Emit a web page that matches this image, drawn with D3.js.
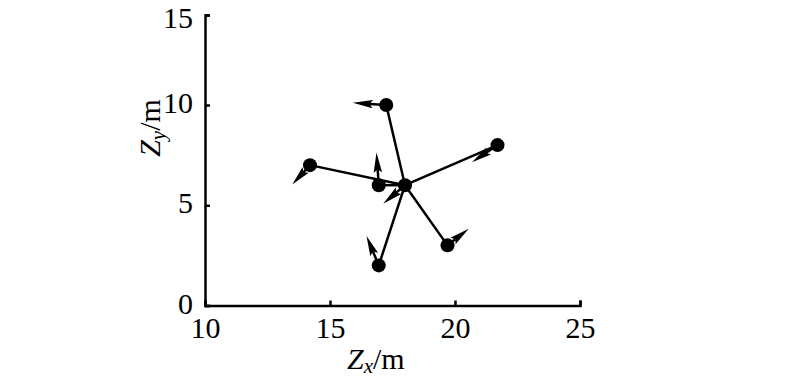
<!DOCTYPE html>
<html>
<head>
<meta charset="utf-8">
<script src="https://cdn.jsdelivr.net/npm/d3@7"></script>
<style>
  body { margin: 0; background: #fff; }
  text { font-family: "Liberation Serif", "Times New Roman", serif; }
</style>
</head>
<body>
<div id="chart"></div>
<script>
// node positions (m) and velocity vectors drawn as arrows
var px = [18.0, 17.25, 21.7, 14.2, 16.95, 19.7, 16.95];
var py = [6.0, 10.0, 8.0, 7.0, 6.0, 3.0, 2.0];
var vx = [-0.87, -1.34, -1.02, -0.71, -0.09, 0.85, -0.49];
var vy = [-0.92, 0.12, -0.85, -0.97, 1.63, 0.83, 1.47];
var hub = 0; // every other node is linked to this one
var xTicks = [10, 15, 20, 25];
var yTicks = [0, 5, 10, 15];

var width = 800, height = 379;
var svg = d3.select("#chart").append("svg")
    .attr("width", width)
    .attr("height", height)
    .style("background", "#fff");

var x = d3.scaleLinear().domain([10, 25]).range([205, 580]);
// top of the original axis is squeezed a little, so a polylinear scale
var y = d3.scaleLinear().domain([0, 10, 15]).range([305.5, 105, 15]);

var xAxis = d3.axisBottom(x).tickValues(xTicks)
    .tickSizeInner(-5).tickSizeOuter(-5).tickPadding(11);
var yAxis = d3.axisLeft(y).tickValues(yTicks)
    .tickSizeInner(-5).tickSizeOuter(-5).tickPadding(12);

var gx = svg.append("g").attr("transform", "translate(0,305.5)").call(xAxis);
var gy = svg.append("g").attr("transform", "translate(205,0)").call(yAxis);

[gx, gy].forEach(function (g) {
    g.selectAll("path, line").attr("stroke", "#000").attr("stroke-width", 2.5);
    g.selectAll("text")
        .attr("fill", "#000")
        .style("font-size", "30px");
});
gy.selectAll("text").attr("dy", function (d) { return d === 15 ? "0.4em" : "0.25em"; });

// axis titles
var xt = svg.append("text")
    .attr("x", 347).attr("y", 369)
    .style("font-size", "30px");
xt.append("tspan").style("font-style", "italic").text("Z");
xt.append("tspan").style("font-style", "italic").style("font-size", "21px").attr("dy", 4).text("x");
xt.append("tspan").attr("dy", -4).text("/m");

var yt = svg.append("text")
    .attr("transform", "translate(160,128) rotate(-90)")
    .attr("text-anchor", "middle")
    .style("font-size", "30px");
yt.append("tspan").style("font-style", "italic").text("Z");
yt.append("tspan").style("font-style", "italic").style("font-size", "21px").attr("dy", 5).text("y");
yt.append("tspan").attr("dy", -5).text("/m");

var nodes = px.map(function (d, i) {
    return { x: px[i], y: py[i], vx: vx[i], vy: vy[i] };
});

// links from the hub
svg.append("g").selectAll("line")
    .data(nodes.filter(function (d, i) { return i !== hub; }))
    .enter().append("line")
    .attr("x1", x(nodes[hub].x)).attr("y1", y(nodes[hub].y))
    .attr("x2", function (d) { return x(d.x); })
    .attr("y2", function (d) { return y(d.y); })
    .attr("stroke", "#000")
    .attr("stroke-width", 2.5);

// arrows
var arrows = svg.append("g");
nodes.forEach(function (d) {
    var x0 = x(d.x), y0 = y(d.y);
    var x1 = x(d.x + d.vx), y1 = y(d.y + d.vy);
    var len = Math.sqrt((x1 - x0) * (x1 - x0) + (y1 - y0) * (y1 - y0));
    var ux = (x1 - x0) / len, uy = (y1 - y0) / len;
    var nx = -uy, ny = ux;
    var hl = Math.min(20, len * 0.75), hw = 4.2;
    var bx = x1 - ux * hl, by = y1 - uy * hl;
    arrows.append("line")
        .attr("x1", x0).attr("y1", y0)
        .attr("x2", bx + ux * 3).attr("y2", by + uy * 3)
        .attr("stroke", "#000")
        .attr("stroke-width", 2.5);
    arrows.append("path")
        .attr("d", "M" + x1 + "," + y1 +
            "L" + (bx + nx * hw) + "," + (by + ny * hw) +
            "L" + (bx + ux * 3) + "," + (by + uy * 3) +
            "L" + (bx - nx * hw) + "," + (by - ny * hw) + "Z")
        .attr("fill", "#000");
});

// nodes
svg.append("g").selectAll("circle")
    .data(nodes)
    .enter().append("circle")
    .attr("cx", function (d) { return x(d.x); })
    .attr("cy", function (d) { return y(d.y); })
    .attr("r", 7)
    .attr("fill", "#000");
</script>
</body>
</html>
